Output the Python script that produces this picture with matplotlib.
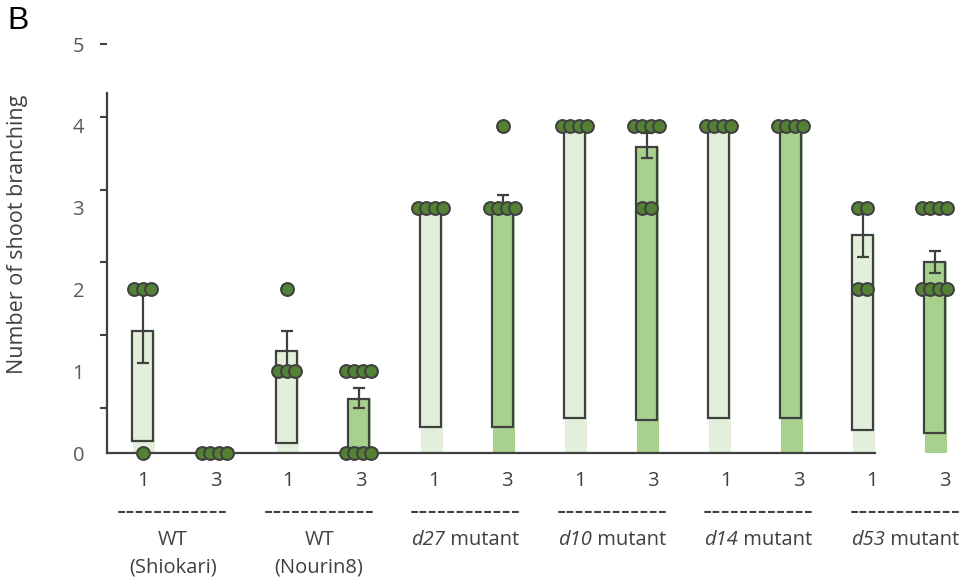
import numpy as np
import matplotlib.pyplot as plt
from matplotlib import transforms

plt.rcParams['font.family'] = ['Open Sans', 'DejaVu Sans']

# --- data ---
bar_labels = ['1', '3', '1', '3', '1', '3', '1', '3', '1', '3', '1', '3']
group_top = ['WT', 'WT', 'd27', 'd10', 'd14', 'd53']
group_sub = ['(Shiokari)', '(Nourin8)', '', '', '', '']
means = [1.49, 0.0, 1.25, 0.66, 3.0, 3.0, 4.0, 3.74, 4.0, 4.0, 2.66, 2.33]
err_lo = [0.39, 0.0, 0.25, 0.11, 0.0, 0.0, 0.0, 0.13, 0.0, 0.0, 0.26, 0.13]
err_hi = [0.54, 0.0, 0.24, 0.14, 0.0, 0.15, 0.0, 0.17, 0.0, 0.0, 0.37, 0.14]
box_base = [0.15, 0.0, 0.12, 0.06, 0.32, 0.32, 0.43, 0.40, 0.43, 0.43, 0.28, 0.25]
dots = [[2, 2, 2, 0], [0, 0, 0, 0], [2, 1, 1, 1], [1, 1, 1, 1, 0, 0, 0, 0],
        [3, 3, 3, 3], [4, 3, 3, 3, 3], [4, 4, 4, 4], [4, 4, 4, 4, 3, 3],
        [4, 4, 4, 4], [4, 4, 4, 4], [3, 3, 2, 2], [3, 3, 3, 3, 2, 2, 2, 2]]
y_labels = [0, 1, 2, 3, 4, 5]

light = '#e2efda'
dark = '#a9d18e'
edge = '#404040'
dot_col = '#548235'
txt = '#595959'
fs = 14.5

fig = plt.figure(figsize=(9.73, 5.85), dpi=100)
ax = fig.add_axes([0.110, 0.2256, 0.8875, 0.741])

x = np.arange(len(means))
fills = [light if i % 2 == 0 else dark for i in x]

ax.bar(x + 0.02, means, width=0.31, color=fills, linewidth=0, zorder=1)
heights = np.array(means) - np.array(box_base)
ax.bar(x, heights, bottom=box_base, width=0.29, fill=False,
       edgecolor=edge, linewidth=1.6, zorder=2)

for i in x:
    if err_lo[i] == 0 and err_hi[i] == 0:
        continue
    ax.errorbar(i, means[i], yerr=[[err_lo[i]], [err_hi[i]]], fmt='none',
                ecolor=edge, elinewidth=1.6, capsize=4, capthick=1.6, zorder=3)

# dots grouped by value, spread sideways
step = 0.115
for i, vals in enumerate(dots):
    for v in sorted(set(vals)):
        n = vals.count(v)
        offs = (np.arange(n) - (n - 1) / 2) * step
        ax.plot(i + offs, [v] * n, 'o', ms=9.2, mfc=dot_col, mec=edge,
                mew=1.5, zorder=5, clip_on=False)

ax.set_xlim(-0.493, 11.5)
ax.set_ylim(0, 5.3)

for s in ['top', 'right']:
    ax.spines[s].set_visible(False)
ax.spines['left'].set_bounds(0, 4.40)
ax.spines['bottom'].set_bounds(-0.493, 10.17)
for s in ['left', 'bottom']:
    ax.spines[s].set_color(edge)
    ax.spines[s].set_linewidth(1.6)
    ax.spines[s].set_zorder(4)

ax.yaxis.remove_overlapping_locs = False
ax.set_yticks(y_labels)
ax.set_yticklabels([str(v) for v in y_labels])
ax.tick_params(axis='y', which='major', length=0, pad=16.5, labelsize=fs,
               labelcolor=txt)
ax.set_yticks(5 - 0.89 * np.arange(6), minor=True)
ax.tick_params(axis='y', which='minor', length=5, width=1.5, color=edge)
ax.set_xticks([])

# category labels under the axis
drift = 1.013
tr = transforms.blended_transform_factory(ax.transData, ax.transData)
for i, lab in enumerate(bar_labels):
    ax.text(i * drift, -0.342, lab, ha='center', va='center', fontsize=fs,
            color=edge, transform=tr, clip_on=False)

renderer = fig.canvas.get_renderer()
for g in range(len(group_top)):
    cx = (2 * g + 0.5) * 1.017 - 0.09
    ax.text(cx, -0.72, '------------', ha='center', va='center', fontsize=18.5,
            family=['DejaVu Sans'], color=edge, transform=tr, clip_on=False)
    if group_sub[g]:
        ax.text(cx, -1.064, group_top[g], ha='center', va='center', fontsize=fs,
                color=edge, transform=tr, clip_on=False)
        ax.text(cx, -1.394, group_sub[g], ha='center', va='center', fontsize=fs,
                color=edge, transform=tr, clip_on=False)
    else:
        # italic gene name followed by upright " mutant", centred together
        t1 = ax.text(cx, -1.064, group_top[g], ha='left', va='center',
                     fontsize=fs, style='italic', color=edge, transform=tr,
                     clip_on=False)
        t2 = ax.text(cx, -1.064, ' mutant', ha='left', va='center',
                     fontsize=fs, color=edge, transform=tr, clip_on=False)
        w1 = t1.get_window_extent(renderer).width
        w2 = t2.get_window_extent(renderer).width
        start = -(w1 + w2) / 2
        t1.set_transform(transforms.offset_copy(tr, fig, x=start, y=0, units='dots'))
        t2.set_transform(transforms.offset_copy(tr, fig, x=start + w1, y=0, units='dots'))

fig.text(18 / 973, 1 - 234 / 585, 'Number of shoot branching', rotation=90,
         ha='center', va='center', fontsize=15.5, color=edge)
fig.text(7 / 973, 1 - 21 / 585, 'B', ha='left', va='center', fontsize=23,
         family=['Liberation Sans', 'DejaVu Sans'], color='black')

fig.savefig('out.png', dpi=100)
